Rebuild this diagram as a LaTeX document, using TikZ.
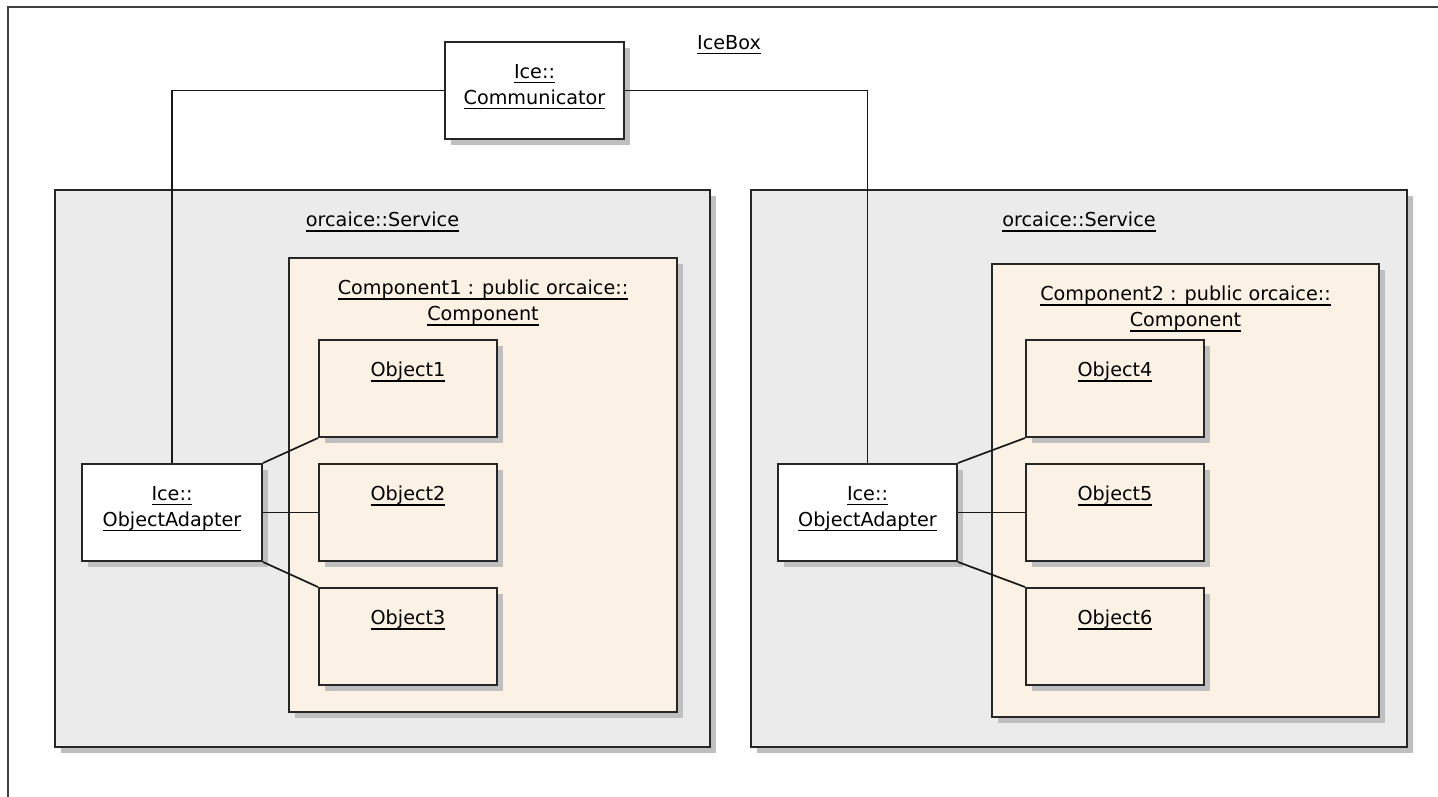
\documentclass[tikz,border=0pt]{standalone}
\usepackage{fontspec}
\setmainfont{DejaVu Sans}
\usepackage{tikz}
\usetikzlibrary{positioning,shadows}
\definecolor{svcgray}{HTML}{EBEBEB}
\definecolor{compbeige}{HTML}{FBF1E4}
\newcommand{\uname}[1]{\setbox0=\hbox{#1}\rlap{\rule[-5pt]{\wd0}{1.4pt}}\box0}

\begin{document}
\begin{tikzpicture}[x=1pt, y=-1pt, font=\fontsize{19.2}{26}\selectfont,
    box/.style={rectangle, draw=black!85, line width=2pt, inner sep=0pt,
        drop shadow={shadow xshift=6pt, shadow yshift=-6pt, fill=black!25, opacity=1}},
    svcbox/.style={box, fill=svcgray},
    compbox/.style={box, fill=compbeige},
    objbox/.style={box, fill=compbeige, minimum width=178, minimum height=97},
    icebox/.style={box, fill=white, minimum height=97},
    title/.style={inner sep=0pt, align=center},
    link/.style={line width=1.7pt, black!90}]
    \useasboundingbox (0,0) rectangle (1438,797);

    % Frame
    \draw[line width=2pt, black!75] (1470,7) -- (8,7) -- (8,830);
    \node[title, anchor=north] (iceboxname) at (729,35) {\uname{IceBox}};

    % Services
    \node[svcbox, minimum width=655, minimum height=557] (svcL) at (382.5,468.5) {};
    \node[svcbox, minimum width=656, minimum height=557] (svcR) at (1079,468.5) {};
    \node[title, below=23pt of svcL.north] (svcLname) {\uname{orcaice::Service}};
    \node[title, below=23pt of svcR.north] (svcRname) {\uname{orcaice::Service}};

    % Components
    \node[compbox, minimum width=388, minimum height=454] (compL) at (483,485) {};
    \node[compbox, minimum width=387, minimum height=453] (compR) at (1185.5,490.5) {};
    \node[title, below=23pt of compL.north] (compLname) {\uname{Component1 : public orcaice::}\\\uname{Component}};
    \node[title, below=23pt of compR.north] (compRname) {\uname{Component2 : public orcaice::}\\\uname{Component}};

    % Objects
    \node[objbox] (obj1) at (408,388.5) {};
    \node[objbox] (obj2) at (408,512.5) {};
    \node[objbox] (obj3) at (408,636.5) {};
    \node[objbox] (obj4) at (1115,388.5) {};
    \node[objbox] (obj5) at (1115,512.5) {};
    \node[objbox] (obj6) at (1115,636.5) {};
    \foreach \i in {1,...,6}
        \node[title, below=23pt of obj\i.north] (obj\i name) {\uname{Object\i}};

    % Ice objects
    \node[icebox, minimum width=179] (comm) at (534.5,90.5) {};
    \node[icebox, minimum width=180] (oaL) at (172,512.5) {};
    \node[icebox, minimum width=179] (oaR) at (867.5,512.5) {};
    \node[title, below=23pt of comm.north] (commname) {\uname{Ice::}\\\uname{Communicator}};
    \node[title, below=23pt of oaL.north] (oaLname) {\uname{Ice::}\\\uname{ObjectAdapter}};
    \node[title, below=23pt of oaR.north] (oaRname) {\uname{Ice::}\\\uname{ObjectAdapter}};

    % Lines
    \draw[link] (comm.west) -| (oaL.north);
    \draw[link] (comm.east) -| (oaR.north);
    \draw[link] (oaL.north east) -- (obj1.south west);
    \draw[link] (oaL.east) -- (obj2.west);
    \draw[link] (oaL.south east) -- (obj3.north west);
    \draw[link] (oaR.north east) -- (obj4.south west);
    \draw[link] (oaR.east) -- (obj5.west);
    \draw[link] (oaR.south east) -- (obj6.north west);
\end{tikzpicture}
\end{document}
